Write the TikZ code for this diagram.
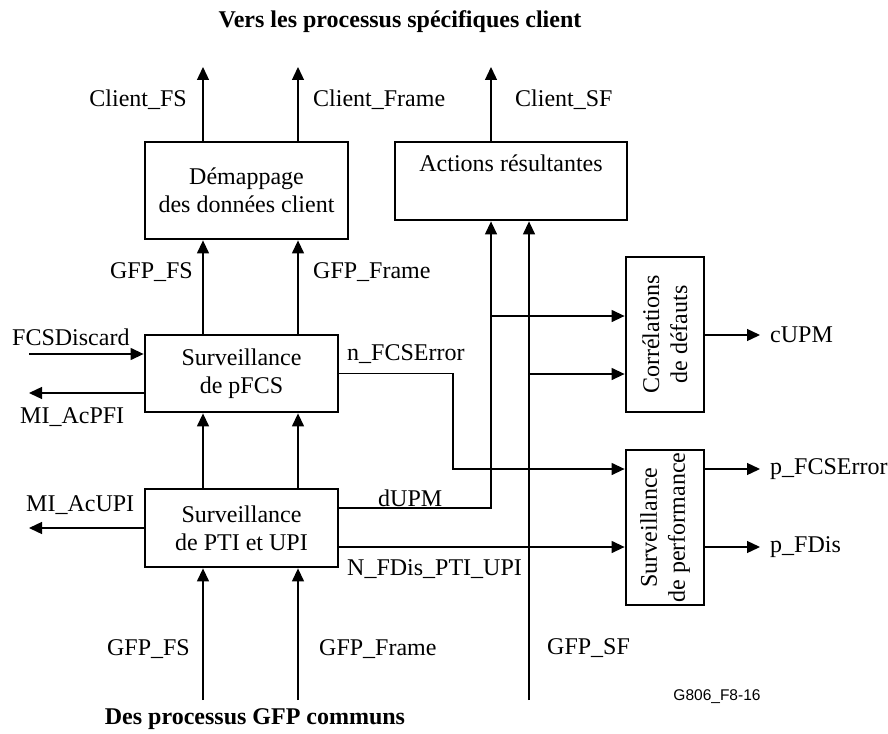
\documentclass[tikz,border=0pt]{standalone}
\usepackage{fontspec}
\setmainfont{Liberation Serif}
\newfontfamily\labsans{Liberation Sans}
\usetikzlibrary{arrows.meta,calc}
\begin{document}
\begin{tikzpicture}[x=1pt,y=-1pt,
  every node/.style={font=\fontsize{24}{28}\selectfont, inner sep=0pt},
  box/.style={draw, line width=2.8pt, align=center},
  arr/.style={line width=1.3pt, -{Triangle[length=13pt,width=12pt]}},
  ln/.style={line width=1.3pt},
  lab/.style={anchor=center}]
\useasboundingbox (0,0) rectangle (888,733);
% titles
\node[font=\fontsize{24}{28}\selectfont\bfseries] (ttop) at (400,22) {Vers les processus spécifiques client};
\node[font=\fontsize{24}{28}\selectfont\bfseries] (tbot) at (255,719) {Des processus GFP communs};
\node[font=\labsans\fontsize{15.5}{18}\selectfont] (fig) at (717,697) {G806\_F8-16};
% boxes
\node[box, minimum width=203pt, minimum height=97pt] (dem) at (246.5,190.5) {Démappage\\des données client};
\node[box, minimum width=232pt, minimum height=78pt] (act) at (511,181) {Actions résultantes\\\strut};
\node[box, minimum width=193pt, minimum height=77pt] (pfcs) at (241.5,373.5) {Surveillance\\de pFCS};
\node[box, minimum width=193pt, minimum height=78pt] (pti) at (241.5,528) {Surveillance\\de PTI et UPI};
\node[box, minimum width=78pt, minimum height=155pt] (corr) at (665,334.5) {};
\node[rotate=90, align=center] (corrt) at (corr.center) {Corrélations\\de défauts};
\node[box, minimum width=78pt, minimum height=155pt] (perf) at (665,527.5) {};
\node[rotate=90, align=center] (perft) at (perf.center) {Surveillance\\de performance};
% free ends
\coordinate (cfs) at (203,67);
\coordinate (cfr) at (298,67);
\coordinate (csf) at (491,67);
\coordinate (gfs) at (203,700);
\coordinate (gfr) at (298,700);
\coordinate (gsf) at (529,700);
\coordinate (fcsd) at (29,354);
\coordinate (mipfi) at (29,393);
\coordinate (miupi) at (29,528);
\coordinate (j1) at (491,316);
\coordinate (j2) at (529,374);
\coordinate (c1) at (453,469);
\coordinate (cupm) at (760,335);
\coordinate (pfe) at (760,469);
\coordinate (pfd) at (760,547);
% top outputs
\draw[arr] (dem.north -| cfs) -- (cfs);
\draw[arr] (dem.north -| cfr) -- (cfr);
\draw[arr] (act.north -| csf) -- (csf);
% between blocks
\draw[arr] (pfcs.north -| cfs) -- (dem.south -| cfs);
\draw[arr] (pfcs.north -| cfr) -- (dem.south -| cfr);
\draw[arr] (pti.north -| cfs) -- (pfcs.south -| cfs);
\draw[arr] (pti.north -| cfr) -- (pfcs.south -| cfr);
\draw[arr] (gfs) -- (pti.south -| gfs);
\draw[arr] (gfr) -- (pti.south -| gfr);
% left side
\draw[arr] (fcsd) -- (fcsd -| pfcs.west);
\draw[arr] (mipfi -| pfcs.west) -- (mipfi);
\draw[arr] (pti.west) -- (miupi);
% right side
\draw[arr] ([yshift=20pt]pti.east) -| (act.south -| j1);
\draw[arr] (gsf) -- (act.south -| gsf);
\draw[arr] (j1) -- (j1 -| corr.west);
\draw[arr] (j2) -- (j2 -| corr.west);
\draw[arr] (pfcs.east) -| (c1) -- (c1 -| perf.west);
\draw[arr] ([yshift=-19pt]pti.east) -- (pfd -| perf.west);
\draw[arr] (cupm -| corr.east) -- (cupm);
\draw[arr] (pfe -| perf.east) -- (pfe);
\draw[arr] (pfd -| perf.east) -- (pfd);
% labels
\node[anchor=east] (l1) at (187,100) {Client\_FS};
\node[anchor=west] (l2) at (313,100) {Client\_Frame};
\node[anchor=west] (l3) at (515,100) {Client\_SF};
\node[anchor=east] (l4) at (193,272) {GFP\_FS};
\node[anchor=west] (l5) at (313,272) {GFP\_Frame};
\node[anchor=west] (l6) at (12,337) {FCSDiscard};
\node[anchor=west] (l7) at (20,417) {MI\_AcPFI};
\node[anchor=west] (l8) at (347,354) {n\_FCSError};
\node[anchor=west] (l9) at (26,505) {MI\_AcUPI};
\node[anchor=west] (l10) at (378,498) {dUPM};
\node[anchor=west] (l11) at (347,569) {N\_FDis\_PTI\_UPI};
\node[anchor=east] (l12) at (190,649) {GFP\_FS};
\node[anchor=west] (l13) at (319,649) {GFP\_Frame};
\node[anchor=west] (l14) at (547,648) {GFP\_SF};
\node[anchor=west] (l15) at (770,335) {cUPM};
\node[anchor=west] (l16) at (770,469) {p\_FCSError};
\node[anchor=west] (l17) at (770,547) {p\_FDis};
\end{tikzpicture}
\end{document}
